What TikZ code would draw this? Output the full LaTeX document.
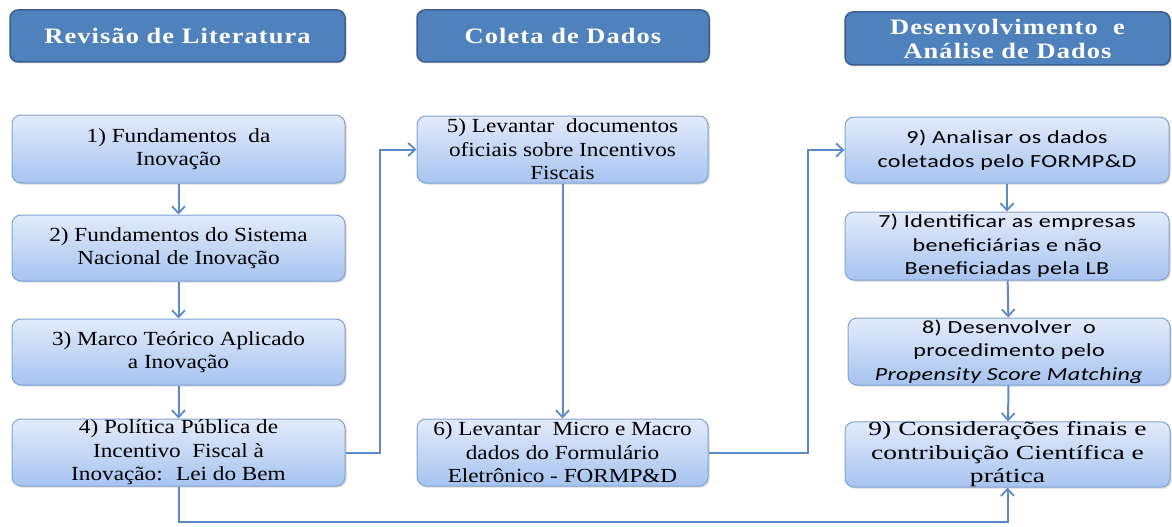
\documentclass[tikz,border=0pt]{standalone}
\usepackage{fontspec}
\setmainfont{Liberation Serif}
\newfontfamily\boxfont[FakeStretch=1.16]{Liberation Serif}
\newfontfamily\widefont[FakeStretch=1.38]{Liberation Serif}
\newfontfamily\hdrfont[FakeStretch=1.2,LetterSpace=5]{Liberation Serif}
\newfontfamily\sansbox[FakeStretch=1.3,LetterSpace=2]{Carlito}
\usetikzlibrary{arrows.meta,shadows}
\definecolor{hdrfill}{HTML}{4F81BD}
\definecolor{hdrdraw}{HTML}{3A5F8C}
\definecolor{boxtop}{HTML}{E2EBFA}
\definecolor{boxbot}{HTML}{A7C3F0}
\definecolor{boxdraw}{HTML}{7FA3D3}
\definecolor{linec}{HTML}{5B8ACB}
\tikzset{
  hdr/.style={draw=hdrdraw, line width=1.5pt, fill=hdrfill, rounded corners=8pt,
    text=white, font=\hdrfont\bfseries\fontsize{22}{26}\selectfont, align=center,
    inner sep=0pt, drop shadow={shadow xshift=1.5pt, shadow yshift=-1.5pt, opacity=0.3}},
  stepbox/.style={draw=boxdraw, line width=1pt, top color=boxtop, bottom color=boxbot,
    rounded corners=9pt, align=center, inner sep=0pt,
    font=\boxfont\fontsize{20}{23.5}\selectfont, text=black,
    drop shadow={shadow xshift=1.5pt, shadow yshift=-1.5pt, opacity=0.3}},
  sbox/.style={stepbox, font=\sansbox\fontsize{18.5}{23.5}\selectfont},
  wbox/.style={stepbox, font=\widefont\fontsize{20}{23.5}\selectfont},
  conn/.style={draw=linec, line width=2pt, -{Straight Barb[length=7pt,width=13pt,line width=1.8pt]}},
}
\begin{document}
\begin{tikzpicture}[x=1pt,y=-1pt]
\useasboundingbox (0,0) rectangle (1172,527);
% headers
\node[hdr, minimum width=335pt, minimum height=52pt] (h1) at (177.5,36) {Revisão de Literatura};
\node[hdr, minimum width=292pt, minimum height=52pt] (h2) at (563,36) {Coleta de Dados};
\node[hdr, minimum width=325pt, minimum height=53pt] (h3) at (1007.5,38.5) {Desenvolvimento \ e\\[-2pt]Análise de Dados};
% left column
\node[stepbox, minimum width=333pt, minimum height=68pt] (b1) at (178.5,149) {1) Fundamentos \ da\\Inovação};
\node[stepbox, minimum width=333pt, minimum height=66pt] (b2) at (178.5,248) {2) Fundamentos do Sistema\\Nacional de Inovação};
\node[stepbox, minimum width=333pt, minimum height=66pt] (b3) at (178.5,352) {3) Marco Teórico Aplicado\\a Inovação};
\node[stepbox, minimum width=333pt, minimum height=67pt] (b4) at (178.5,452.5) {4) Política Pública de\\Incentivo \ Fiscal à\\Inovação: \ Lei do Bem};
% middle column
\node[stepbox, minimum width=291pt, minimum height=67pt] (b5) at (562.5,149.5) {5) Levantar \ documentos\\oficiais sobre Incentivos\\Fiscais};
\node[stepbox, minimum width=291pt, minimum height=67pt] (b6) at (562.5,452.5) {6) Levantar \ Micro e Macro\\dados do Formulário\\Eletrônico - FORMP\&D};
% right column
\node[sbox, minimum width=324pt, minimum height=66pt] (b9a) at (1007,150) {9) Analisar os dados\\coletados pelo FORMP\&D};
\node[sbox, minimum width=324pt, minimum height=68pt] (b7) at (1007,246) {7) Identificar as empresas\\beneficiárias e não\\Beneficiadas pela LB};
\node[sbox, minimum width=322pt, minimum height=67pt] (b8) at (1009,351.5) {8) Desenvolver \ o\\procedimento pelo\\\textit{Propensity Score Matching}};
\node[wbox, minimum width=325pt, minimum height=65pt] (b9b) at (1007.5,454.5) {9) Considerações finais e\\contribuição Científica e\\prática};
% connectors
\coordinate (c1) at (380,452.5);
\coordinate (c2) at (808,452.5);
\coordinate (c3) at (600,522);
\draw[conn] (b1) -- (b2);
\draw[conn] (b2) -- (b3);
\draw[conn] (b3) -- (b4);
\draw[conn] (b4.east) -- (c1) |- (b5.west);
\draw[conn] (b5) -- (b6);
\draw[conn] (b6.east) -- (c2) |- (b9a.west);
\draw[conn] (b9a) -- (b7);
\draw[conn] (b7) -- (b8);
\draw[conn] (b8) -- (b9b);
\draw[conn] (b4.south) |- (c3) -| (b9b.south);
\end{tikzpicture}
\end{document}
